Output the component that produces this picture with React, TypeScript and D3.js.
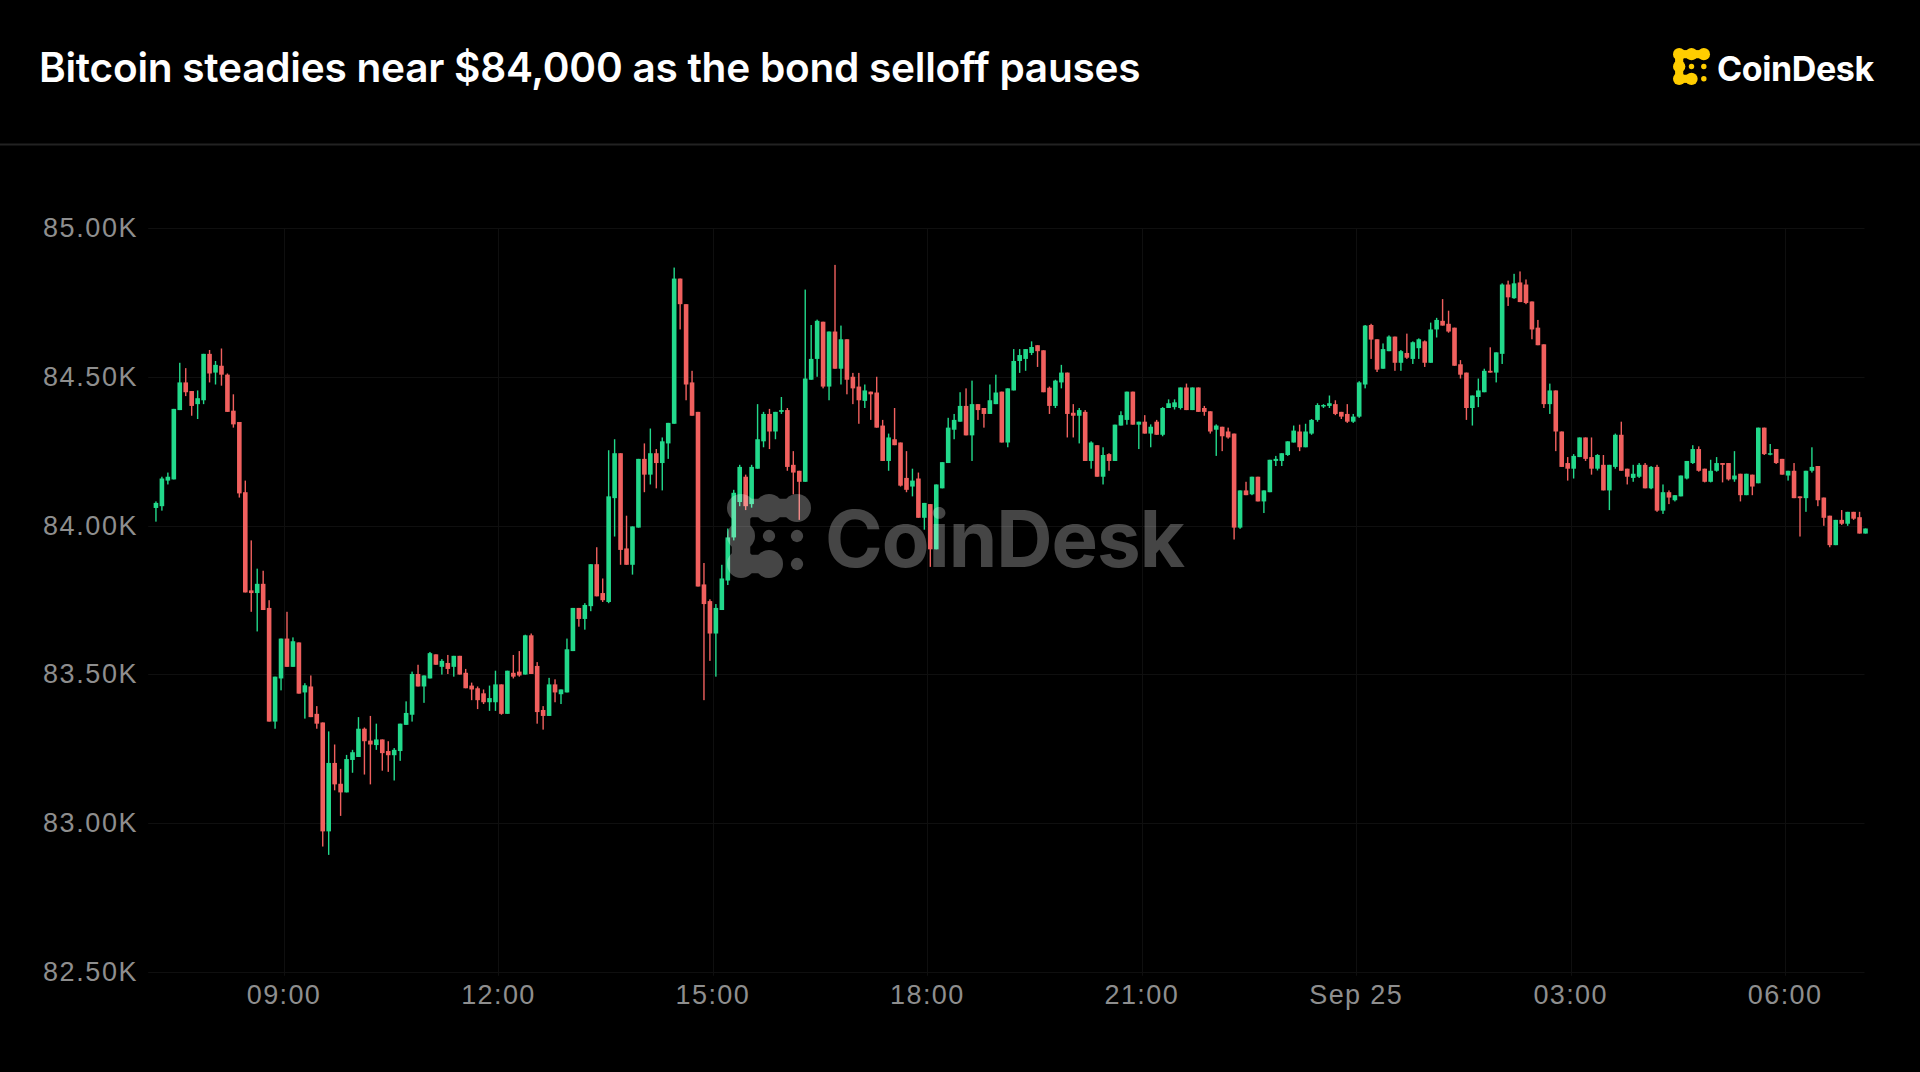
import React from "react";
import * as d3 from "d3";

const TITLE = "Bitcoin steadies near $84,000 as the bond selloff pauses";
const BRAND = "CoinDesk";

// 5-minute candles starting Sep 24 07:10
const START = new Date(2025, 8, 24, 7, 10);
const STEP_MIN = 5;

const opens = [
  84059, 84065, 84151, 84155, 84388, 84481, 84452, 84408, 84421, 84577, 84514, 84537, 84507, 84386, 84348, 84112,
  83782, 83773, 83804, 83723, 83341, 83486, 83620, 83525, 83607, 83439, 83459, 83367, 83338, 82972, 83202, 83132,
  83103, 83212, 83222, 83317, 83277, 83262, 83281, 83242, 83228, 83242, 83330, 83364, 83501, 83459, 83486, 83567,
  83525, 83538, 83525, 83562, 83505, 83462, 83453, 83436, 83406, 83406, 83466, 83367, 83505, 83509, 83499, 83631,
  83528, 83380, 83360, 83466, 83433, 83439, 83578, 83723, 83686, 83729, 83870, 83773, 83743, 84092, 84243, 83923,
  83868, 83993, 84224, 84171, 84243, 84210, 84276, 84342, 84830, 84744, 84481, 84382, 83802, 83746, 83637, 83716,
  83815, 83960, 84079, 84164, 84072, 84191, 84283, 84375, 84316, 84382, 84388, 84204, 84184, 84147, 84490, 84560,
  84685, 84467, 84652, 84527, 84626, 84500, 84467, 84419, 84450, 84447, 84336, 84217, 84290, 84279, 84160, 84131,
  84158, 84026, 84072, 83920, 84125, 84210, 84322, 84349, 84402, 84303, 84408, 84395, 84375, 84408, 84450, 84279,
  84454, 84553, 84560, 84580, 84606, 84589, 84463, 84402, 84481, 84514, 84379, 84369, 84382, 84217, 84270, 84164,
  84240, 84217, 84336, 84355, 84450, 84339, 84349, 84309, 84349, 84305, 84395, 84398, 84395, 84464, 84388, 84464,
  84395, 84384, 84322, 84332, 84316, 84309, 83993, 84118, 84105, 84164, 84081, 84112, 84217, 84217, 84237, 84279,
  84316, 84263, 84309, 84355, 84400, 84402, 84408, 84382, 84375, 84349, 84366, 84474, 84674, 84626, 84527, 84586,
  84635, 84547, 84580, 84560, 84596, 84619, 84547, 84659, 84688, 84678, 84665, 84542, 84514, 84395, 84432, 84448,
  84520, 84514, 84577, 84810, 84764, 84817, 84810, 84753, 84665, 84609, 84408, 84454, 84316, 84210, 84191, 84230,
  84296, 84230, 84191, 84204, 84118, 84197, 84305, 84191, 84160, 84164, 84204, 84125, 84197, 84050, 84112, 84085,
  84098, 84158, 84210, 84257, 84191, 84147, 84184, 84210, 84210, 84155, 84174, 84102, 84171, 84142, 84329, 84240,
  84257, 84224, 84168, 84184, 84098, 84092, 84184, 84200, 84094, 84033, 83934, 84019, 84006, 84046, 84028, 83973,
];

const highs = [
  84081, 84164, 84178, 84392, 84547, 84529, 84452, 84454, 84577, 84590, 84553, 84595, 84511, 84441, 84348, 84151,
  83950, 83855, 83848, 83749, 83492, 83620, 83710, 83624, 83607, 83470, 83496, 83393, 83338, 83308, 83264, 83182,
  83229, 83246, 83356, 83321, 83360, 83334, 83281, 83275, 83252, 83334, 83409, 83509, 83532, 83496, 83575, 83567,
  83551, 83565, 83562, 83562, 83518, 83472, 83459, 83449, 83462, 83512, 83466, 83512, 83565, 83578, 83633, 83637,
  83541, 83393, 83488, 83483, 83449, 83620, 83723, 83723, 83739, 83870, 83927, 83822, 84253, 84290, 84243, 84033,
  83997, 84224, 84276, 84326, 84257, 84296, 84345, 84867, 84830, 84744, 84520, 84382, 83874, 83752, 83736, 83868,
  83990, 84120, 84204, 84171, 84204, 84408, 84382, 84392, 84382, 84432, 84395, 84250, 84184, 84793, 84674, 84692,
  84685, 84652, 84876, 84672, 84626, 84513, 84513, 84474, 84450, 84500, 84355, 84309, 84395, 84279, 84250, 84191,
  84178, 84076, 84072, 84138, 84213, 84362, 84375, 84448, 84461, 84487, 84408, 84395, 84474, 84507, 84450, 84461,
  84593, 84593, 84593, 84619, 84606, 84589, 84467, 84490, 84540, 84514, 84408, 84395, 84388, 84283, 84270, 84263,
  84243, 84339, 84384, 84450, 84450, 84349, 84371, 84340, 84355, 84398, 84424, 84424, 84464, 84477, 84464, 84464,
  84402, 84384, 84340, 84332, 84329, 84309, 84118, 84147, 84164, 84164, 84118, 84221, 84234, 84243, 84283, 84336,
  84339, 84342, 84358, 84411, 84408, 84437, 84421, 84382, 84408, 84375, 84485, 84674, 84678, 84626, 84612, 84639,
  84635, 84590, 84645, 84619, 84629, 84622, 84682, 84698, 84761, 84722, 84665, 84556, 84514, 84437, 84494, 84527,
  84599, 84582, 84814, 84823, 84846, 84854, 84827, 84753, 84691, 84609, 84477, 84454, 84316, 84230, 84240, 84296,
  84296, 84296, 84240, 84237, 84204, 84309, 84349, 84191, 84204, 84210, 84210, 84200, 84204, 84138, 84118, 84102,
  84168, 84217, 84270, 84266, 84191, 84221, 84230, 84210, 84210, 84250, 84174, 84174, 84171, 84329, 84329, 84274,
  84257, 84224, 84184, 84210, 84098, 84184, 84263, 84200, 84094, 84033, 84019, 84052, 84046, 84046, 84046, 83990,
];

const lows = [
  84013, 84050, 84138, 84155, 84388, 84435, 84369, 84358, 84408, 84481, 84474, 84470, 84382, 84329, 84094, 83775,
  83710, 83644, 83716, 83341, 83317, 83446, 83525, 83525, 83435, 83351, 83356, 83317, 82921, 82893, 83110, 83024,
  83103, 83169, 83222, 83163, 83130, 83246, 83176, 83172, 83143, 83209, 83330, 83341, 83459, 83404, 83486, 83532,
  83499, 83501, 83492, 83499, 83453, 83413, 83383, 83400, 83377, 83377, 83364, 83367, 83486, 83492, 83499, 83501,
  83334, 83314, 83360, 83406, 83400, 83439, 83578, 83660, 83650, 83712, 83762, 83743, 83739, 83963, 83868, 83868,
  83835, 83993, 84112, 84138, 84125, 84118, 84224, 84342, 84659, 84421, 84369, 83795, 83413, 83545, 83492, 83716,
  83800, 83950, 84065, 84052, 84060, 84191, 84263, 84257, 84290, 84375, 84184, 84105, 84019, 84147, 84490, 84500,
  84461, 84421, 84527, 84474, 84441, 84408, 84342, 84395, 84355, 84329, 84217, 84184, 84270, 84131, 84112, 84098,
  84026, 83986, 83861, 83920, 84125, 84210, 84290, 84349, 84303, 84217, 84355, 84329, 84375, 84408, 84279, 84263,
  84454, 84513, 84520, 84573, 84533, 84448, 84375, 84395, 84461, 84296, 84296, 84276, 84217, 84191, 84164, 84138,
  84184, 84217, 84336, 84339, 84339, 84257, 84309, 84263, 84305, 84300, 84395, 84390, 84390, 84388, 84388, 84382,
  84369, 84309, 84234, 84250, 84292, 83953, 83989, 84102, 84102, 84081, 84042, 84112, 84200, 84200, 84234, 84279,
  84250, 84263, 84305, 84349, 84395, 84395, 84371, 84358, 84345, 84345, 84362, 84461, 84560, 84516, 84527, 84586,
  84520, 84520, 84560, 84543, 84560, 84533, 84547, 84632, 84672, 84648, 84537, 84494, 84355, 84336, 84398, 84448,
  84514, 84481, 84543, 84738, 84762, 84751, 84744, 84626, 84606, 84395, 84375, 84250, 84197, 84151, 84158, 84230,
  84217, 84171, 84185, 84118, 84052, 84191, 84184, 84138, 84147, 84160, 84125, 84122, 84046, 84039, 84072, 84081,
  84098, 84155, 84207, 84181, 84145, 84145, 84181, 84145, 84151, 84147, 84081, 84102, 84102, 84142, 84237, 84236,
  84207, 84171, 84151, 84092, 83963, 84046, 84178, 84065, 83999, 83927, 83934, 84002, 83999, 84019, 83973, 83973,
];

const closes = [
  84076, 84158, 84164, 84392, 84481, 84448, 84402, 84428, 84577, 84511, 84540, 84507, 84382, 84340, 84108, 83775,
  83773, 83804, 83716, 83341, 83492, 83620, 83525, 83611, 83435, 83463, 83356, 83334, 82972, 83202, 83130, 83103,
  83215, 83238, 83317, 83275, 83264, 83281, 83235, 83228, 83246, 83334, 83370, 83501, 83459, 83496, 83571, 83532,
  83545, 83518, 83562, 83499, 83453, 83449, 83413, 83406, 83420, 83466, 83367, 83512, 83492, 83496, 83631, 83501,
  83373, 83360, 83466, 83439, 83449, 83584, 83723, 83686, 83733, 83870, 83762, 83749, 84098, 84243, 83918, 83868,
  83997, 84224, 84171, 84243, 84210, 84283, 84345, 84830, 84744, 84474, 84369, 83795, 83736, 83637, 83723, 83822,
  83960, 84110, 84197, 84065, 84197, 84290, 84375, 84316, 84382, 84388, 84197, 84178, 84147, 84494, 84560, 84688,
  84467, 84652, 84527, 84626, 84490, 84461, 84421, 84454, 84441, 84329, 84217, 84296, 84270, 84134, 84120, 84151,
  84026, 84076, 83920, 84138, 84213, 84329, 84355, 84402, 84303, 84408, 84388, 84375, 84421, 84447, 84279, 84461,
  84553, 84573, 84593, 84600, 84586, 84448, 84402, 84487, 84514, 84375, 84369, 84388, 84217, 84279, 84164, 84237,
  84217, 84339, 84371, 84450, 84339, 84349, 84309, 84332, 84305, 84395, 84411, 84414, 84464, 84388, 84464, 84382,
  84382, 84316, 84336, 84300, 84296, 83993, 84118, 84102, 84164, 84081, 84118, 84221, 84224, 84243, 84283, 84319,
  84263, 84316, 84355, 84405, 84405, 84411, 84375, 84366, 84349, 84366, 84481, 84672, 84625, 84524, 84593, 84635,
  84547, 84586, 84564, 84616, 84626, 84547, 84659, 84691, 84672, 84652, 84537, 84507, 84395, 84437, 84454, 84520,
  84514, 84582, 84810, 84767, 84814, 84751, 84748, 84659, 84606, 84408, 84454, 84316, 84197, 84191, 84234, 84296,
  84224, 84191, 84237, 84118, 84204, 84305, 84184, 84164, 84174, 84204, 84125, 84197, 84050, 84112, 84094, 84102,
  84168, 84217, 84257, 84184, 84147, 84184, 84210, 84204, 84155, 84168, 84102, 84174, 84131, 84329, 84240, 84243,
  84210, 84171, 84184, 84092, 84092, 84184, 84197, 84085, 84026, 83934, 84019, 84006, 84046, 84023, 83973, 83990,
];

const yTicks = [82500, 83000, 83500, 84000, 84500, 85000];
const xTickTimes = [
  new Date(2025, 8, 24, 9, 0),
  new Date(2025, 8, 24, 12, 0),
  new Date(2025, 8, 24, 15, 0),
  new Date(2025, 8, 24, 18, 0),
  new Date(2025, 8, 24, 21, 0),
  new Date(2025, 8, 25, 0, 0),
  new Date(2025, 8, 25, 3, 0),
  new Date(2025, 8, 25, 6, 0),
];
const xTickLabels = ["09:00", "12:00", "15:00", "18:00", "21:00", "Sep 25", "03:00", "06:00"];

const W = 1920;
const H = 1072;
const PLOT_L = 148.2;
const PLOT_R = 1868.5;
const PLOT_T = 228;
const PLOT_B = 971.8;

const GREEN = "#22D98B";
const RED = "#F0605E";

function LogoIcon({ x, y, size, color }: { x: number; y: number; size: number; color: string }) {
  const c = size / 3;
  const r = c * 0.5;
  const bar = c * 0.66;
  const cx = (i: number) => x + c * i + c / 2;
  const cy = (j: number) => y + c * j + c / 2;
  const filled: [number, number][] = [
    [0, 0], [1, 0], [2, 0], [0, 1], [0, 2], [1, 2],
  ];
  const links: [number, number, number, number][] = [
    [0, 0, 1, 0], [1, 0, 2, 0], [0, 0, 0, 1], [0, 1, 0, 2], [0, 2, 1, 2],
  ];
  const dots: [number, number][] = [[1, 1], [2, 1], [2, 2]];
  return (
    <g fill={color}>
      {filled.map(([i, j], k) => (
        <circle key={"f" + k} cx={cx(i)} cy={cy(j)} r={r} />
      ))}
      {links.map(([i1, j1, i2, j2], k) =>
        j1 === j2 ? (
          <rect key={"l" + k} x={cx(i1)} y={cy(j1) - bar / 2} width={cx(i2) - cx(i1)} height={bar} />
        ) : (
          <rect key={"l" + k} x={cx(i1) - bar / 2} y={cy(j1)} width={bar} height={cy(j2) - cy(j1)} />
        )
      )}
      {dots.map(([i, j], k) => (
        <circle key={"d" + k} cx={cx(i)} cy={cy(j)} r={c * 0.22} />
      ))}
    </g>
  );
}

export default function App() {
  const x = d3
    .scaleTime()
    .domain([new Date(2025, 8, 24, 7, 6), new Date(2025, 8, 25, 7, 10)])
    .range([PLOT_L, PLOT_R]);
  const y = d3.scaleLinear().domain([82500, 85000]).range([PLOT_B, PLOT_T]);

  const candles = closes.map((c, i) => {
    const t = d3.timeMinute.offset(START, i * STEP_MIN);
    return { t, o: opens[i], h: highs[i], l: lows[i], c };
  });
  const bodyW = 4.6;
  const wickW = 1.4;

  return (
    <div style={{ position: "fixed", left: 0, top: 0, width: W, height: H, background: "#000" }}>
      <svg width={W} height={H} style={{ display: "block" }}>
        <rect x={0} y={0} width={W} height={H} fill="#000" />
        <text
          x={39}
          y={82}
          fill="#fff"
          fontFamily="Inter, 'Noto Sans', sans-serif"
          fontWeight={600}
          fontSize={40.6}
          letterSpacing={-0.25}
        >
          {TITLE}
        </text>
        <LogoIcon x={1673} y={48} size={37} color="#FFCD00" />
        <text
          x={1717}
          y={81}
          fill="#fff"
          fontFamily="Inter, 'Noto Sans', sans-serif"
          fontWeight={700}
          fontSize={34}
          letterSpacing={-0.4}
        >
          {BRAND}
        </text>
        <line x1={0} x2={W} y1={144.5} y2={144.5} stroke="#222" strokeWidth={2} />

        {/* grid */}
        <g stroke="#0f0f0f" strokeWidth={1}>
          {yTicks.map((v) => (
            <line key={"gy" + v} x1={PLOT_L} x2={PLOT_R - 4} y1={Math.round(y(v)) + 0.5} y2={Math.round(y(v)) + 0.5} />
          ))}
          {xTickTimes.map((t, i) => (
            <line key={"gx" + i} x1={Math.round(x(t)) + 0.5} x2={Math.round(x(t)) + 0.5} y1={PLOT_T} y2={PLOT_B + 4} />
          ))}
        </g>

        {/* y labels */}
        <g fill="#8E8E8E" fontFamily="'Liberation Sans', Arial, sans-serif" fontSize={27} letterSpacing={1.6}>
          {yTicks.map((v) => (
            <text key={"yl" + v} x={43} y={y(v)} dominantBaseline="central">
              {d3.format(".2f")(v / 1000) + "K"}
            </text>
          ))}
        </g>
        {/* x labels */}
        <g fill="#8E8E8E" fontFamily="'Liberation Sans', Arial, sans-serif" fontSize={27} letterSpacing={1.4}>
          {xTickTimes.map((t, i) => (
            <text key={"xl" + i} x={x(t)} y={995} textAnchor="middle" dominantBaseline="central">
              {xTickLabels[i]}
            </text>
          ))}
        </g>

        {/* candles */}
        <g>
          {candles.map((d, i) => {
            const cx = x(d3.timeSecond.offset(d.t, 150));
            const up = d.c >= d.o;
            const col = up ? GREEN : RED;
            const yTop = y(Math.max(d.o, d.c));
            const yBot = y(Math.min(d.o, d.c));
            const bh = Math.max(1.5, yBot - yTop);
            return (
              <g key={i} fill={col}>
                <rect x={cx - wickW / 2} y={y(d.h)} width={wickW} height={Math.max(1, y(d.l) - y(d.h))} />
                <rect x={cx - bodyW / 2} y={yTop} width={bodyW} height={bh} />
              </g>
            );
          })}
        </g>

        {/* watermark */}
        <g opacity={0.27}>
          <LogoIcon x={727} y={494} size={84} color="#fff" />
          <text
            x={825}
            y={567}
            fill="#fff"
            fontFamily="Inter, 'Noto Sans', sans-serif"
            fontWeight={700}
            fontSize={78}
            letterSpacing={-1}
          >
            {BRAND}
          </text>
        </g>
      </svg>
    </div>
  );
}
